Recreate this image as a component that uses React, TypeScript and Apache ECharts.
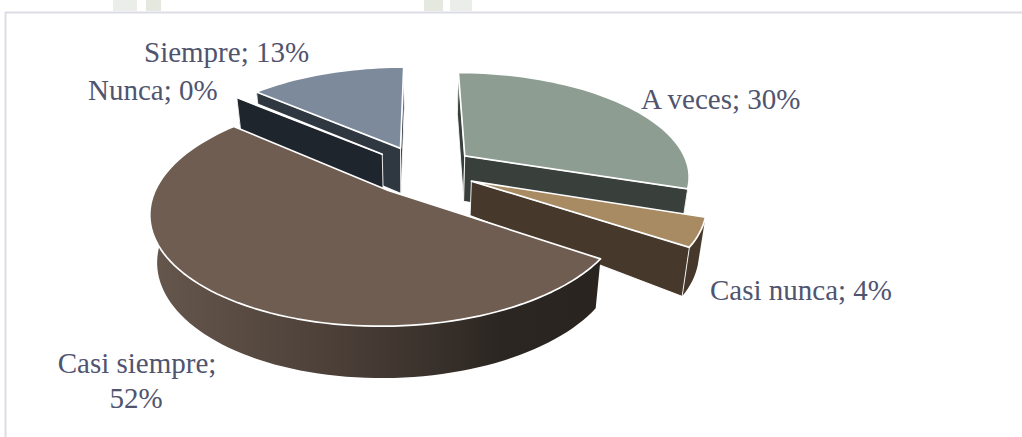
import { useEffect, useRef } from "react";
import * as echarts from "echarts";

const categories = ["A veces", "Casi nunca", "Casi siempre", "Nunca", "Siempre"];
const shares = [30, 4.2, 51.6, 0.2, 13.49];
const paintOrder = [4, 0, 3, 1, 2];

const topColors = ["#8e9d92", "#a88a63", "#6f5d52", "#3a444e", "#7c8a9b"];
const wallColors = ["#39403c", "#46382a", "#2a2420", "#1f252c", "#2f3740"];

// The thin Casi nunca wedge tapers more sharply towards its tip.
const tipDepthScale = [1, 0.74, 1, 1, 1];

// Pie geometry: a unit disc seen in perspective, every slice pushed out along its bisector.
const CX = 422;
const CY = 170;
const RX = 225;
const RY = 103;
const PERSPECTIVE = 0.18;
const EXPLODE = 0.24;
const DEPTH = 46;
const BASE_SHRINK = 0.027;
const STEP = (2 * Math.PI) / 180;

const total = shares.reduce((a, b) => a + b, 0);
const startAngles = shares.map((_, i) =>
  (shares.slice(0, i).reduce((a, b) => a + b, 0) / total) * 2 * Math.PI
);
const endAngles = shares.map((v, i) => startAngles[i] + (v / total) * 2 * Math.PI);

type Pt = [number, number];

function project(u: number, v: number, depthScale: number): Pt {
  const s = 1 / (1 - PERSPECTIVE * v);
  const x = RX * u * s;
  const low = depthScale > 0;
  return [
    CX + (low ? x * (1 - BASE_SHRINK) : x),
    CY + RY * v * s + (low ? DEPTH * depthScale * Math.sqrt(s) : 0),
  ];
}

// Shoelace sum: its sign tells which way a wall faces once projected.
function winding(points: Pt[]) {
  return points.reduce((sum, p, k) => {
    const q = points[(k + 1) % points.length];
    return sum + p[0] * q[1] - q[0] * p[1];
  }, 0);
}

function sliceShapes(i: number) {
  const a0 = startAngles[i];
  const a1 = endAngles[i];
  const mid = (a0 + a1) / 2;
  const ou = EXPLODE * Math.sin(mid);
  const ov = -EXPLODE * Math.cos(mid);
  const rim = (a: number, depth: number) =>
    project(ou + Math.sin(a), ov - Math.cos(a), depth);
  const steps = Math.max(1, Math.ceil((a1 - a0) / STEP));
  const angles = Array.from({ length: steps + 1 }, (_, k) => a0 + ((a1 - a0) * k) / steps);
  const apexTop = project(ou, ov, 0);
  const apexLow = project(ou, ov, tipDepthScale[i]);
  return {
    top: [apexTop, ...angles.map((a) => rim(a, 0))],
    startWall: [apexTop, rim(a0, 0), rim(a0, 1), apexLow] as Pt[],
    endWall: [apexTop, rim(a1, 0), rim(a1, 1), apexLow] as Pt[],
    outerWall: [
      ...angles.map((a) => rim(a, 0)),
      ...angles.slice().reverse().map((a) => rim(a, 1)),
    ],
  };
}

const brownWall = () =>
  new echarts.graphic.LinearGradient(0, 0, 1, 0, [
    { offset: 0, color: "#66574d" },
    { offset: 0.5, color: "#453a33" },
    { offset: 0.78, color: "#2b2622" },
    { offset: 1, color: "#2a2420" },
  ]);

const renderSlice = (_params: unknown, api: { value: (d: number) => number }) => {
  const i = api.value(0);
  const shapes = sliceShapes(i);
  const wall = wallColors[i];
  const face = (points: Pt[], fill: unknown, width: number) => ({
    type: "polygon",
    shape: { points },
    style: {
      fill,
      stroke: width > 0 ? "#ffffff" : fill,
      lineWidth: width > 0 ? width : 0,
      lineJoin: "round",
    },
  });
  const rimFill = categories[i] === "Casi siempre" ? brownWall() : wall;
  const children = [face(shapes.outerWall, rimFill, 0)];
  if (winding(shapes.startWall) < 0) children.push(face(shapes.startWall, wall, 0.9));
  if (winding(shapes.endWall) > 0) children.push(face(shapes.endWall, wall, 0.9));
  children.push(face(shapes.top, topColors[i], 1.7));
  return { type: "group", children };
};

const INK = "#50546f";
const labelStyle = (text: string, x: number, y: number, align = "left") => ({
  type: "text",
  x,
  y,
  style: {
    text,
    fill: INK,
    font: '29px "Liberation Serif"',
    textAlign: align,
    textVerticalAlign: "middle",
  },
});

const pct = (i: number) => `${categories[i]}; ${Math.round(shares[i])}%`;

export default function App() {
  const ref = useRef<HTMLDivElement>(null);
  useEffect(() => {
    if (!ref.current) return;
    const chart = echarts.init(ref.current, undefined, { renderer: "svg" });
    chart.setOption({
      animation: false,
      backgroundColor: "#ffffff",
      graphic: [
        { type: "rect", shape: { x: 113, y: 0, width: 24, height: 11 }, style: { fill: "#ebeee8" } },
        { type: "rect", shape: { x: 146, y: 0, width: 15, height: 11 }, style: { fill: "#e4e8df" } },
        { type: "rect", shape: { x: 424, y: 0, width: 19, height: 11 }, style: { fill: "#e4e8df" } },
        { type: "rect", shape: { x: 450, y: 0, width: 22, height: 11 }, style: { fill: "#ebeee8" } },
        { type: "line", shape: { x1: 5, y1: 12.5, x2: 1022, y2: 12.5 }, style: { stroke: "#dcdce6", lineWidth: 2 } },
        { type: "line", shape: { x1: 5.5, y1: 12, x2: 5.5, y2: 437 }, style: { stroke: "#dcdce6", lineWidth: 2 } },
        labelStyle(pct(4), 144, 52),
        labelStyle(pct(3), 88, 90),
        labelStyle(pct(0), 641, 99),
        labelStyle(pct(1), 710, 290),
        labelStyle(`${categories[2]};`, 137, 363, "center"),
        labelStyle(`${Math.round(shares[2])}%`, 136, 398, "center"),
      ],
      series: [
        {
          type: "custom",
          coordinateSystem: "none",
          silent: true,
          data: paintOrder.map((i) => [i]),
          renderItem: renderSlice,
        },
      ],
    });
    return () => chart.dispose();
  }, []);
  return (
    <div
      ref={ref}
      style={{ position: "fixed", left: 0, top: 0, width: 1022, height: 437 }}
    />
  );
}
